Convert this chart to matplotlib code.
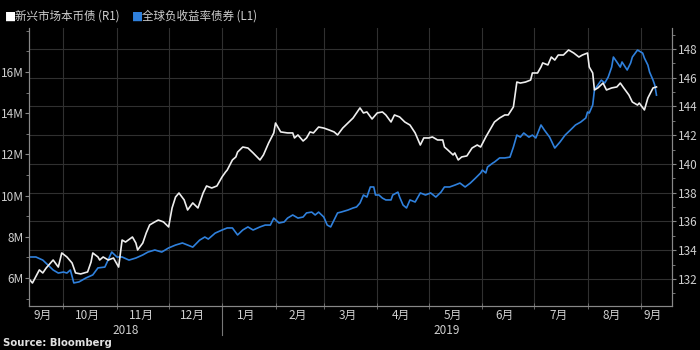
import matplotlib
matplotlib.use('Agg')
import matplotlib.pyplot as plt
import pandas as pd
from matplotlib.lines import Line2D
import matplotlib.transforms as mtransforms

plt.rcParams['font.family'] = ['Noto Sans CJK SC', 'DejaVu Sans']

# 新兴市场本币债 (R1) - right axis
em_dates = [
    '2018-09-11', '2018-09-13', '2018-09-17', '2018-09-19', '2018-09-21', '2018-09-25', '2018-09-28', '2018-09-30',
    '2018-10-03', '2018-10-06', '2018-10-08', '2018-10-11', '2018-10-15', '2018-10-17', '2018-10-18', '2018-10-21',
    '2018-10-22', '2018-10-24', '2018-10-27', '2018-10-30', '2018-11-02', '2018-11-04', '2018-11-06', '2018-11-10',
    '2018-11-12', '2018-11-13', '2018-11-16', '2018-11-18', '2018-11-20', '2018-11-23', '2018-11-25', '2018-11-28',
    '2018-12-01', '2018-12-03', '2018-12-05', '2018-12-07', '2018-12-10', '2018-12-12', '2018-12-15', '2018-12-18',
    '2018-12-21', '2018-12-23', '2018-12-26', '2018-12-29', '2019-01-01', '2019-01-03', '2019-01-04', '2019-01-07',
    '2019-01-09', '2019-01-10', '2019-01-13', '2019-01-16', '2019-01-19', '2019-01-23', '2019-01-25', '2019-01-28',
    '2019-01-31', '2019-02-01', '2019-02-04', '2019-02-08', '2019-02-11', '2019-02-12', '2019-02-14', '2019-02-17',
    '2019-02-19', '2019-02-21', '2019-02-23', '2019-02-26', '2019-03-01', '2019-03-04', '2019-03-07', '2019-03-09',
    '2019-03-12', '2019-03-15', '2019-03-18', '2019-03-20', '2019-03-22', '2019-03-24', '2019-03-26', '2019-03-29',
    '2019-04-01', '2019-04-04', '2019-04-06', '2019-04-09', '2019-04-11', '2019-04-14', '2019-04-17', '2019-04-20',
    '2019-04-23', '2019-04-26', '2019-04-28', '2019-05-01', '2019-05-03', '2019-05-06', '2019-05-09', '2019-05-10',
    '2019-05-12', '2019-05-15', '2019-05-16', '2019-05-18', '2019-05-20', '2019-05-23', '2019-05-26', '2019-05-29',
    '2019-05-31', '2019-06-03', '2019-06-06', '2019-06-08', '2019-06-11', '2019-06-14', '2019-06-16', '2019-06-19',
    '2019-06-21', '2019-06-23', '2019-06-26', '2019-06-29', '2019-06-30', '2019-07-03', '2019-07-05', '2019-07-06',
    '2019-07-09', '2019-07-11', '2019-07-13', '2019-07-15', '2019-07-18', '2019-07-21', '2019-07-24', '2019-07-27',
    '2019-07-29', '2019-08-01', '2019-08-02', '2019-08-04', '2019-08-05', '2019-08-07', '2019-08-10', '2019-08-12',
    '2019-08-15', '2019-08-18', '2019-08-20', '2019-08-22', '2019-08-25', '2019-08-27', '2019-08-30', '2019-08-31',
    '2019-09-03', '2019-09-05', '2019-09-08', '2019-09-10',
]
em_values = [
    132.0, 131.72, 132.63, 132.42, 132.77, 133.32, 132.83, 133.81,
    133.53, 133.11, 132.42, 132.35, 132.49, 133.18, 133.81, 133.53,
    133.32, 133.53, 133.32, 133.46, 132.83, 134.71, 134.57, 134.92,
    134.50, 134.02, 134.50, 135.2, 135.76, 135.97, 136.1, 135.97,
    135.62, 136.94, 137.7, 137.98, 137.5, 136.8, 137.29, 136.94,
    137.98, 138.47, 138.33, 138.47, 139.1, 139.44, 139.58, 140.28,
    140.49, 140.83, 141.18, 141.11, 140.77, 140.28, 140.63, 141.46,
    142.16, 142.85, 142.23, 142.16, 142.16, 141.81, 142.02, 141.6,
    141.81, 142.23, 142.16, 142.57, 142.5, 142.37, 142.23, 142.02,
    142.5, 142.85, 143.2, 143.55, 143.9, 143.55, 143.62, 143.13,
    143.55, 143.62, 143.41, 142.92, 143.41, 143.27, 142.92, 142.71,
    142.16, 141.32, 141.81, 141.81, 141.88, 141.67, 141.67, 141.18,
    140.97, 140.63, 140.77, 140.28, 140.49, 140.56, 141.11, 141.32,
    141.18, 141.88, 142.5, 142.92, 143.2, 143.41, 143.41, 143.97,
    145.7, 145.63, 145.7, 145.84, 146.33, 146.33, 146.75, 147.03,
    146.89, 147.44, 147.23, 147.58, 147.58, 147.93, 147.72, 147.44,
    147.58, 147.72, 146.75, 146.33, 145.15, 145.29, 145.63, 145.15,
    145.29, 145.36, 145.63, 145.29, 144.8, 144.31, 144.1, 144.24,
    143.76, 144.59, 145.29, 145.36,
]

# 全球负收益率债券 (L1) - left axis, 单位 M
neg_dates = [
    '2018-09-11', '2018-09-15', '2018-09-19', '2018-09-22', '2018-09-25', '2018-09-28', '2018-10-01', '2018-10-03',
    '2018-10-05', '2018-10-07', '2018-10-10', '2018-10-14', '2018-10-18', '2018-10-21', '2018-10-25', '2018-10-29',
    '2018-11-01', '2018-11-04', '2018-11-08', '2018-11-12', '2018-11-16', '2018-11-19', '2018-11-23', '2018-11-27',
    '2018-12-01', '2018-12-05', '2018-12-09', '2018-12-12', '2018-12-15', '2018-12-19', '2018-12-22', '2018-12-24',
    '2018-12-28', '2019-01-01', '2019-01-04', '2019-01-07', '2019-01-10', '2019-01-13', '2019-01-16', '2019-01-19',
    '2019-01-23', '2019-01-26', '2019-01-29', '2019-01-31', '2019-02-03', '2019-02-06', '2019-02-08', '2019-02-11',
    '2019-02-14', '2019-02-17', '2019-02-19', '2019-02-22', '2019-02-24', '2019-02-26', '2019-03-01', '2019-03-03',
    '2019-03-05', '2019-03-07', '2019-03-09', '2019-03-11', '2019-03-15', '2019-03-18', '2019-03-20', '2019-03-22',
    '2019-03-24', '2019-03-26', '2019-03-28', '2019-03-30', '2019-03-31', '2019-04-02', '2019-04-04', '2019-04-06',
    '2019-04-09', '2019-04-10', '2019-04-13', '2019-04-14', '2019-04-16', '2019-04-18', '2019-04-20', '2019-04-23',
    '2019-04-26', '2019-04-29', '2019-05-02', '2019-05-05', '2019-05-08', '2019-05-10', '2019-05-13', '2019-05-16',
    '2019-05-19', '2019-05-22', '2019-05-25', '2019-05-28', '2019-05-31', '2019-06-01', '2019-06-03', '2019-06-04',
    '2019-06-07', '2019-06-08', '2019-06-11', '2019-06-14', '2019-06-17', '2019-06-19', '2019-06-21', '2019-06-23',
    '2019-06-25', '2019-06-28', '2019-06-30', '2019-07-02', '2019-07-05', '2019-07-07', '2019-07-10', '2019-07-13',
    '2019-07-16', '2019-07-19', '2019-07-22', '2019-07-25', '2019-07-28', '2019-07-31', '2019-08-01', '2019-08-02',
    '2019-08-04', '2019-08-05', '2019-08-07', '2019-08-09', '2019-08-11', '2019-08-13', '2019-08-15', '2019-08-16',
    '2019-08-18', '2019-08-20', '2019-08-21', '2019-08-24', '2019-08-26', '2019-08-27', '2019-08-30', '2019-09-02',
    '2019-09-03', '2019-09-05', '2019-09-06', '2019-09-08', '2019-09-09', '2019-09-10',
]
neg_values = [
    7.02, 7.02, 6.87, 6.63, 6.39, 6.24, 6.29, 6.24,
    6.39, 5.76, 5.81, 6.0, 6.15, 6.49, 6.53, 7.26,
    7.02, 7.02, 6.87, 6.97, 7.12, 7.26, 7.36, 7.26,
    7.46, 7.6, 7.7, 7.6, 7.5, 7.84, 7.99, 7.89,
    8.18, 8.33, 8.43, 8.43, 8.09, 8.33, 8.48, 8.33,
    8.48, 8.57, 8.57, 8.91, 8.67, 8.72, 8.91, 9.06,
    8.91, 8.96, 9.16, 9.2, 9.06, 9.2, 8.96, 8.57,
    8.48, 8.82, 9.16, 9.2, 9.3, 9.4, 9.45, 9.64,
    10.03, 9.93, 10.42, 10.42, 10.03, 10.03, 9.88, 9.79,
    9.79, 10.03, 10.17, 9.93, 9.54, 9.4, 9.79, 9.69,
    10.13, 10.03, 10.13, 9.93, 10.17, 10.42, 10.42, 10.51,
    10.61, 10.42, 10.61, 10.85, 11.1, 11.24, 11.1, 11.39,
    11.58, 11.63, 11.83, 11.83, 11.87, 12.36, 12.94, 12.84,
    13.04, 12.84, 12.94, 12.8, 13.43, 13.18, 12.84, 12.31,
    12.6, 12.94, 13.18, 13.43, 13.57, 13.77, 14.06, 14.01,
    14.4, 15.13, 15.37, 15.61, 15.47, 15.76, 16.24, 16.73,
    16.49, 16.24, 16.49, 16.1, 16.44, 16.73, 17.07, 16.92,
    16.68, 16.34, 16.0, 15.61, 15.37, 14.88,
]

month_names = ['9月', '10月', '11月', '12月', '1月', '2月', '3月', '4月', '5月', '6月', '7月', '8月', '9月']
label_dates = ['2018-09-19', '2018-10-15', '2018-11-15', '2018-12-15', '2019-01-15', '2019-02-14',
               '2019-03-15', '2019-04-15', '2019-05-15', '2019-06-14', '2019-07-15', '2019-08-15', '2019-09-08']

txt = '#cfcfcf'
grid_c = '#303030'
blue = '#2f80dc'

fig = plt.figure(figsize=(7, 3.5), dpi=100, facecolor='black')
rect = [29 / 700, 44 / 350, 643 / 700, 278 / 350]
x0, x1 = pd.Timestamp('2018-09-11'), pd.Timestamp('2019-09-19')
month_starts = pd.date_range('2018-10-01', '2019-09-01', freq='MS')

# grid layer underneath both lines
gax = fig.add_axes(rect)
gax.set_facecolor('black')
gax.set_xlim(x0, x1)
gax.set_ylim(130.12, 149.46)
gax.set_xticks(month_starts)
gax.set_yticks(range(132, 150, 2))
gax.grid(color=grid_c, lw=0.8)
gax.tick_params(length=0, labelbottom=False, labelleft=False)
for s in gax.spines.values():
    s.set_visible(False)

ax = fig.add_axes(rect)
ax.patch.set_visible(False)
ax.plot(pd.to_datetime(neg_dates), neg_values, color=blue, lw=1.2)
ax.set_xlim(x0, x1)
ax.set_ylim(4.64, 18.14)
ax.set_yticks(range(6, 17, 2))
ax.set_yticklabels([f'{v}M' for v in range(6, 17, 2)])
ax.set_yticks(range(5, 19), minor=True)
ax.set_xticks(pd.to_datetime(label_dates))
ax.set_xticklabels(month_names)
ax.set_xticks(month_starts, minor=True)
ax.tick_params(axis='x', which='major', length=0, pad=2, labelsize=8.5, labelcolor=txt)
ax.tick_params(axis='x', which='minor', length=4, direction='inout', color='#777777')
ax.tick_params(axis='y', which='major', length=3, color='#888888', labelsize=8.5, labelcolor=txt, pad=1)
ax.tick_params(axis='y', which='minor', length=2, color='#888888')

ax2 = ax.twinx()
ax2.plot(pd.to_datetime(em_dates), em_values, color='#eeeeee', lw=1.2)
ax2.set_ylim(130.12, 149.46)
ax2.set_yticks(range(132, 150, 2))
ax2.set_yticks(range(131, 150), minor=True)
ax2.tick_params(axis='y', which='major', length=3, color='#888888', labelsize=8.5, labelcolor=txt, pad=1)
ax2.tick_params(axis='y', which='minor', length=2, color='#888888')

for a in (ax, ax2):
    a.spines['top'].set_visible(False)
    for side in ('left', 'right', 'bottom'):
        a.spines[side].set_color('#888888')
        a.spines[side].set_linewidth(0.8)

# year separator and year labels
trans = mtransforms.blended_transform_factory(ax.transData, ax.transAxes)
ax.add_line(Line2D([pd.Timestamp('2019-01-01')] * 2, [0, -0.105], transform=trans,
                   color='#777777', lw=0.8, clip_on=False))
ax.text(pd.Timestamp('2018-11-06'), -0.087, '2018', transform=trans, ha='center', va='center',
        color=txt, fontsize=8.5)
ax.text(pd.Timestamp('2019-05-11'), -0.087, '2019', transform=trans, ha='center', va='center',
        color=txt, fontsize=8.5)

# legend
fig.text(5 / 700, 1 - 16 / 350, '■', color='white', fontsize=8.5, va='center', family='DejaVu Sans')
fig.text(15 / 700, 1 - 16 / 350, '新兴市场本币债 (R1)', color=txt, fontsize=8.3, va='center')
fig.text(132 / 700, 1 - 16 / 350, '■', color=blue, fontsize=8.5, va='center', family='DejaVu Sans')
fig.text(142 / 700, 1 - 16 / 350, '全球负收益率债券 (L1)', color=txt, fontsize=8.3, va='center')

fig.text(3 / 700, 1 - 343 / 350, 'Source: Bloomberg', color='#e0e0e0', fontsize=7.3,
         fontweight='bold', va='center', family='DejaVu Sans')

fig.savefig('out.png', dpi=100, facecolor='black')
